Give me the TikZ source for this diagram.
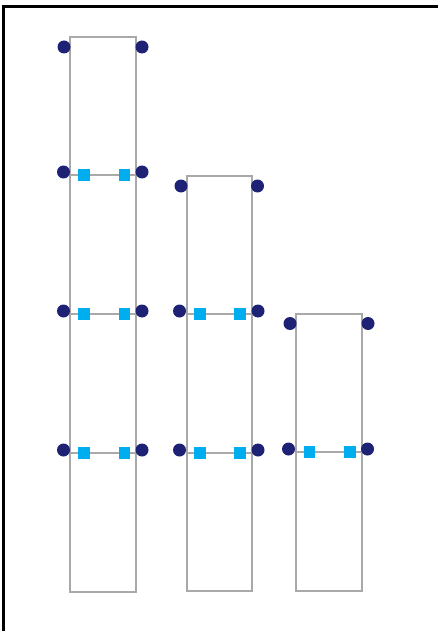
\documentclass[tikz,border=0pt]{standalone}
\definecolor{navy}{HTML}{1E2274}
\definecolor{cyanb}{HTML}{00AEEF}
\definecolor{grayl}{HTML}{A9A9A9}
\tikzset{
  dotn/.style={circle,fill=navy,inner sep=0pt,minimum size=13pt},
  sqn/.style={rectangle,fill=cyanb,inner sep=0pt,minimum size=11.5pt},
  colbox/.style={draw=grayl,line width=2.3pt},
  rung/.style={draw=grayl,line width=2.3pt},
  frameline/.style={draw=black,line width=3pt}
}
\begin{document}
\begin{tikzpicture}[x=1pt,y=-1pt]
\useasboundingbox (0,0) rectangle (438,631);
% frame (top and left only)
\draw[frameline] (3.5,631) -- (3.5,7) -- (438,7);
% columns
\draw[colbox] (70,37) rectangle (136,592);
\draw[colbox] (187,176) rectangle (252,591);
\draw[colbox] (296,314) rectangle (362,591);
% rungs
\foreach \y in {175,314,453} \draw[rung] (70,\y) -- (136,\y);
\foreach \y in {314,453} \draw[rung] (187,\y) -- (252,\y);
\draw[rung] (296,452) -- (362,452);
% column 1
\node[dotn] (a0l) at (64,47) {};
\node[dotn] (a0r) at (142,47) {};
\foreach \i/\y in {1/172,2/311,3/450}{
  \node[dotn] (a\i l) at (63.5,\y) {};
  \node[dotn] (a\i r) at (142,\y) {};
  \node[sqn] (s\i l) at (84,\y+3) {};
  \node[sqn] (s\i r) at (124.5,\y+3) {};
}
% column 2
\node[dotn] (b0l) at (181,186) {};
\node[dotn] (b0r) at (257.5,186) {};
\foreach \i/\y in {1/311,2/450}{
  \node[dotn] (b\i l) at (179.5,\y) {};
  \node[dotn] (b\i r) at (258,\y) {};
  \node[sqn] (t\i l) at (200,\y+3) {};
  \node[sqn] (t\i r) at (240,\y+3) {};
}
% column 3
\node[dotn] (c0l) at (290,323.5) {};
\node[dotn] (c0r) at (368,323.5) {};
\node[dotn] (c1l) at (288.5,449) {};
\node[dotn] (c1r) at (367.5,449) {};
\node[sqn] (u1l) at (309.5,452) {};
\node[sqn] (u1r) at (350,452) {};
\end{tikzpicture}
\end{document}
